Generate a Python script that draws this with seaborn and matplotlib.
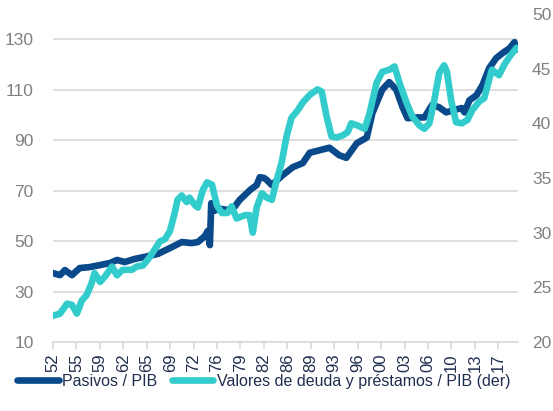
import numpy as np
import pandas as pd
import matplotlib
matplotlib.use("Agg")
import matplotlib.pyplot as plt
import seaborn as sns

# Pasivos / PIB (left axis)
pasivos_year = [1952.0, 1953.0, 1953.7, 1954.7, 1955.8, 1957.25, 1958.7, 1960.1, 1961.1, 1962.2,
                1963.6, 1965.0, 1966.9, 1968.9, 1970.3, 1971.7, 1972.6, 1973.6, 1974.0, 1974.3,
                1974.5, 1975.0, 1975.4, 1976.8, 1977.8, 1978.5, 1980.0, 1980.95, 1981.4, 1982.0,
                1982.4, 1983.1, 1983.8, 1984.6, 1986.1, 1987.5, 1988.5, 1989.9, 1991.3, 1992.7,
                1993.7, 1995.2, 1996.6, 1997.4, 1998.8, 1999.8, 2000.8, 2001.7, 2002.4, 2003.7,
                2004.8, 2005.9, 2006.9, 2007.9, 2009.1, 2010.1, 2010.5, 2011.2, 2012.2, 2013.05,
                2014.0, 2015.0, 2015.9, 2016.9, 2017.6, 2017.9]
pasivos_val = [37.3, 36.5, 38.5, 36.5, 39.3, 39.7, 40.5, 41.3, 42.5, 41.7,
               42.9, 43.7, 44.9, 47.6, 49.6, 49.2, 49.6, 52.0, 54.0, 48.4,
               65.0, 62.0, 63.0, 62.3, 63.5, 66.2, 70.2, 72.2, 75.3, 75.0,
               74.2, 72.2, 74.0, 76.0, 79.3, 80.9, 85.0, 86.0, 87.0, 84.0,
               83.0, 88.8, 91.0, 100.7, 110.0, 113.0, 110.0, 103.0, 98.7, 99.0,
               99.0, 104.0, 103.0, 101.0, 102.0, 102.7, 101.0, 105.8, 107.8, 111.8,
               118.5, 122.5, 124.5, 126.4, 128.8, 126.0]

# Valores de deuda y préstamos / PIB (right axis)
valores_year = [1952.0, 1953.0, 1954.0, 1954.7, 1955.4, 1956.1, 1956.8, 1957.5, 1957.9, 1958.7,
                1959.4, 1960.4, 1961.1, 1961.9, 1963.2, 1963.9, 1964.8, 1965.8, 1966.5, 1967.2,
                1967.9, 1968.6, 1969.3, 1969.7, 1970.3, 1971.0, 1971.4, 1972.2, 1972.6, 1973.3,
                1973.9, 1974.6, 1975.3, 1976.0, 1976.8, 1977.4, 1978.1, 1979.3, 1979.95, 1980.4,
                1980.95, 1981.7, 1982.4, 1983.1, 1983.8, 1984.5, 1985.2, 1985.9, 1986.8, 1987.5,
                1988.5, 1989.6, 1990.2, 1990.9, 1991.6, 1992.3, 1993.2, 1993.9, 1994.4, 1995.3,
                1996.3, 1997.0, 1998.0, 1998.8, 1999.8, 2000.55, 2001.25, 2002.25, 2003.1, 2004.1,
                2004.8, 2005.5, 2006.2, 2006.9, 2007.6, 2008.0, 2008.6, 2009.3, 2010.1, 2010.9,
                2011.6, 2012.6, 2013.3, 2014.0, 2014.4, 2015.4, 2016.1, 2016.9, 2017.9]
valores_val = [22.4, 22.6, 23.5, 23.4, 22.6, 23.8, 24.3, 25.4, 26.3, 25.5,
               26.0, 26.9, 26.1, 26.6, 26.6, 26.9, 27.0, 27.8, 28.5, 29.2,
               29.4, 30.1, 31.8, 33.0, 33.4, 32.8, 33.2, 32.5, 32.3, 33.9,
               34.6, 34.4, 32.5, 31.8, 31.8, 32.4, 31.3, 31.6, 31.6, 30.0,
               32.3, 33.6, 33.2, 33.0, 34.8, 36.4, 38.8, 40.5, 41.2, 41.9,
               42.6, 43.1, 42.9, 40.6, 38.8, 38.7, 38.9, 39.2, 40.0, 39.8,
               39.5, 40.9, 43.7, 44.7, 44.9, 45.2, 43.7, 41.9, 40.6, 39.8,
               39.5, 40.0, 42.1, 44.6, 45.3, 44.7, 42.1, 40.1, 40.0, 40.3,
               41.2, 42.0, 42.3, 44.0, 44.9, 44.4, 45.3, 46.1, 46.9]

tick_labels = ["52", "55", "59", "62", "65", "69", "72", "76", "79", "82",
               "86", "89", "93", "96", "00", "03", "06", "10", "13", "17"]

dark = "#0A4A8A"
cyan = "#33CCCC"
gray = "#808080"
navy = "#1F2D4E"

sns.set_style("white")
plt.rcParams["font.family"] = ["Liberation Sans", "DejaVu Sans"]

df_p = pd.DataFrame({"year": pasivos_year, "val": pasivos_val})
df_v = pd.DataFrame({"year": valores_year, "val": valores_val})

fig = plt.figure(figsize=(5.53, 4.11), dpi=100)
ax = fig.add_axes([0.0958, 0.1679, 0.8409, 0.7981])
ax2 = ax.twinx()

sns.lineplot(data=df_p, x="year", y="val", ax=ax, color=dark, linewidth=4.8,
             label="Pasivos / PIB", legend=False)
sns.lineplot(data=df_v, x="year", y="val", ax=ax2, color=cyan, linewidth=4.8,
             label="Valores de deuda y préstamos / PIB (der)", legend=False)

ax.set_xlim(1952, 2018.1)
ax.set_ylim(10, 140)
ax.set_yticks(np.arange(10, 131, 20))
ax2.set_ylim(20, 50)
ax2.set_yticks(np.arange(20, 51, 5))

ax.yaxis.grid(True, color="#D9D9D9", linewidth=1.2)
ax.set_axisbelow(True)
ax.set_xticks(np.linspace(1952, 2015.3, len(tick_labels)))
ax.set_xticklabels(tick_labels, rotation=90)

for a in (ax, ax2):
    for s in a.spines.values():
        s.set_visible(False)
    a.set_xlabel("")
    a.set_ylabel("")
ax.spines["bottom"].set_visible(True)
ax.spines["bottom"].set_color("#D9D9D9")
ax.spines["bottom"].set_linewidth(1.2)

ax.tick_params(axis="x", colors=navy, labelsize=12, length=5, width=1.2,
               direction="out", bottom=True, pad=3)
ax.tick_params(axis="x", color="#D9D9D9")
ax.tick_params(axis="y", labelcolor=gray, labelsize=12.5, length=0, pad=14)
ax2.tick_params(axis="y", labelcolor=gray, labelsize=12.5, length=0, pad=10)

h1, l1 = ax.get_legend_handles_labels()
h2, l2 = ax2.get_legend_handles_labels()
leg = fig.legend(h1 + h2, l1 + l2, loc="center", bbox_to_anchor=(0.477, 0.072),
                 ncol=2, frameon=False, fontsize=11.5, handlelength=2.6,
                 handletextpad=0.2, columnspacing=0.9, labelcolor=navy)

fig.savefig("out.png", dpi=100)
